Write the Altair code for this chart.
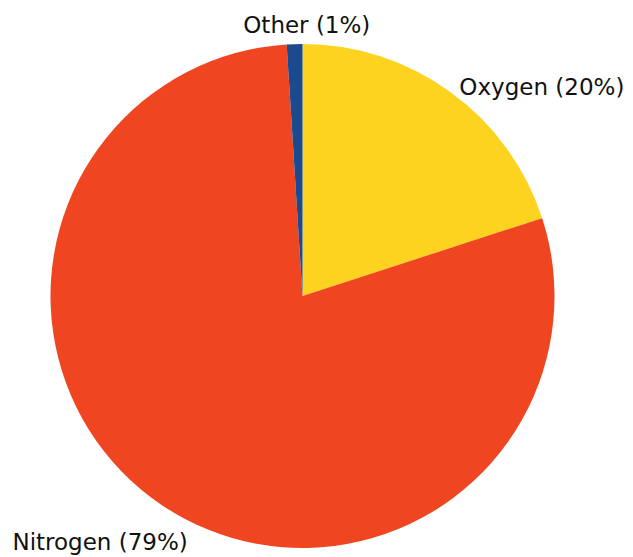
import altair as alt
import pandas as pd

categories = ["Oxygen", "Nitrogen", "Other"]
shares = [20, 79, 1]
labels = ["Oxygen (20%)", "Nitrogen (79%)", "Other (1%)"]
order = [0, 1, 2]
colors = ["#FDD31F", "#EF4621", "#1B4A8E"]

df = pd.DataFrame({"cat": categories, "share": shares, "label": labels, "idx": order})

base = alt.Chart(df).transform_window(
    end="sum(share)", sort=[alt.SortField("idx")], frame=[None, 0]
).transform_calculate(
    start="datum.end - datum.share", mid="datum.end - datum.share / 2"
)

sc = alt.Scale(domain=[0, 100])
cx, cy = 294.5, 288

arcs = base.mark_arc(radius=252).encode(
    theta=alt.Theta("start:Q", scale=sc),
    theta2="end:Q",
    color=alt.Color("cat:N", scale=alt.Scale(domain=categories, range=colors), legend=None),
    x=alt.value(cx),
    y=alt.value(cy),
)

def label_layer(cat, align, dx, dy):
    return base.transform_filter(alt.datum.cat == cat).mark_text(
        radius=277, align=align, baseline="alphabetic", dx=dx, dy=dy,
        font="DejaVu Sans", fontSize=23, color="#111111",
    ).encode(
        theta=alt.Theta("mid:Q", scale=sc),
        text="label:N",
        x=alt.value(cx),
        y=alt.value(cy),
    )

chart = alt.layer(
    arcs,
    label_layer("Oxygen", "left", -6, 23),
    label_layer("Nitrogen", "right", 41, 25),
    label_layer("Other", "center", 13, 14),
).properties(
    width=617, height=549, autosize="none", padding=0
).configure_view(strokeWidth=0)

chart.save("out.html", embed_options={"renderer": "svg", "actions": False})
